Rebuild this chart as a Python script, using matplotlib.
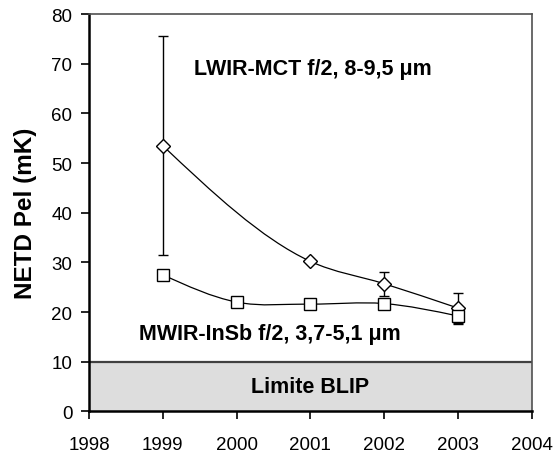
import numpy as np
import matplotlib
matplotlib.use("Agg")
import matplotlib.pyplot as plt
from matplotlib.path import Path
import matplotlib.patches as mpatches

plt.rcParams['font.family'] = ['Liberation Sans', 'DejaVu Sans']

# data
lwir_years = [1999, 2001, 2002, 2003]
lwir_netd = [53.5, 30.2, 25.7, 20.8]
lwir_err = [22.0, 0.0, 2.4, 3.0]

mwir_years = [1999, 2000, 2001, 2002, 2003]
mwir_netd = [27.5, 22.0, 21.6, 21.7, 19.2]
mwir_err = [0.0, 0.0, 0.0, 0.0, 1.6]

blip_limit = 10
year_ticks = [1998, 1999, 2000, 2001, 2002, 2003, 2004]
netd_ticks = [0, 10, 20, 30, 40, 50, 60, 70, 80]


def smooth_path(xs, ys):
    # cubic hermite through the points, written as bezier segments
    x = np.asarray(xs, float)
    y = np.asarray(ys, float)
    h = np.diff(x)
    s = np.diff(y) / h
    m = np.zeros_like(y)
    for i in range(1, len(x) - 1):
        m[i] = (h[i] * s[i - 1] + h[i - 1] * s[i]) / (h[i - 1] + h[i])
    m[0] = (3 * s[0] - m[1]) / 2
    m[-1] = (3 * s[-1] - m[-2]) / 2
    verts = [(x[0], y[0])]
    codes = [Path.MOVETO]
    for i in range(len(x) - 1):
        d = h[i] / 3
        verts += [(x[i] + d, y[i] + m[i] * d),
                  (x[i + 1] - d, y[i + 1] - m[i + 1] * d),
                  (x[i + 1], y[i + 1])]
        codes += [Path.CURVE4] * 3
    return Path(verts, codes)


fig = plt.figure(figsize=(5.53, 4.56), dpi=100)
ax = fig.add_axes([0.161, 0.0958, 0.8005, 0.871])

ax.set_xlim(1998, 2004)
ax.set_ylim(0, 80)

# BLIP band
ax.add_patch(mpatches.Rectangle((1998, 0), 6, blip_limit, facecolor="#dddddd",
                                edgecolor="none", zorder=1))
ax.axhline(blip_limit, color="#404040", lw=1.6, zorder=2)
ax.text(2001, blip_limit / 2, "Limite BLIP", ha="center", va="center",
        fontsize=15.5, fontweight="bold", zorder=3)

for xs, ys in [(lwir_years, lwir_netd), (mwir_years, mwir_netd)]:
    ax.add_patch(mpatches.PathPatch(smooth_path(xs, ys), facecolor="none",
                                    edgecolor="black", lw=0.9, zorder=3))

ax.errorbar(lwir_years, lwir_netd, yerr=lwir_err, fmt="none", ecolor="black",
            elinewidth=1.0, capsize=3.5, capthick=1.0, zorder=4)
ax.errorbar(mwir_years[-1:], mwir_netd[-1:], yerr=mwir_err[-1:], fmt="none",
            ecolor="black", elinewidth=1.0, capsize=3.5, capthick=1.0, zorder=4)

ax.plot(lwir_years, lwir_netd, ls="none", marker="D", ms=7, mfc="white",
        mec="black", mew=1.0, zorder=5)
ax.plot(mwir_years, mwir_netd, ls="none", marker="s", ms=8, mfc="white",
        mec="black", mew=1.0, zorder=5)

ax.text(2001.03, 69, "LWIR-MCT f/2, 8-9,5 \u03bcm", ha="center", va="center",
        fontsize=15.5, fontweight="bold")
ax.text(2000.45, 15.6, "MWIR-InSb f/2, 3,7-5,1 \u03bcm", ha="center", va="center",
        fontsize=15.5, fontweight="bold")

ax.set_xticks(year_ticks)
ax.set_yticks(netd_ticks)
ax.tick_params(direction="out", length=6, width=1.2, labelsize=13.5, pad=6)
ax.tick_params(axis="x", pad=12)
ax.set_ylabel("NETD Pel (mK)", fontsize=17.5, fontweight="bold", labelpad=10)

for side in ["left", "bottom"]:
    ax.spines[side].set_linewidth(1.8)
    ax.spines[side].set_color("black")
for side in ["top", "right"]:
    ax.spines[side].set_linewidth(1.2)
    ax.spines[side].set_color("#505050")

fig.savefig("out.png", dpi=100)
